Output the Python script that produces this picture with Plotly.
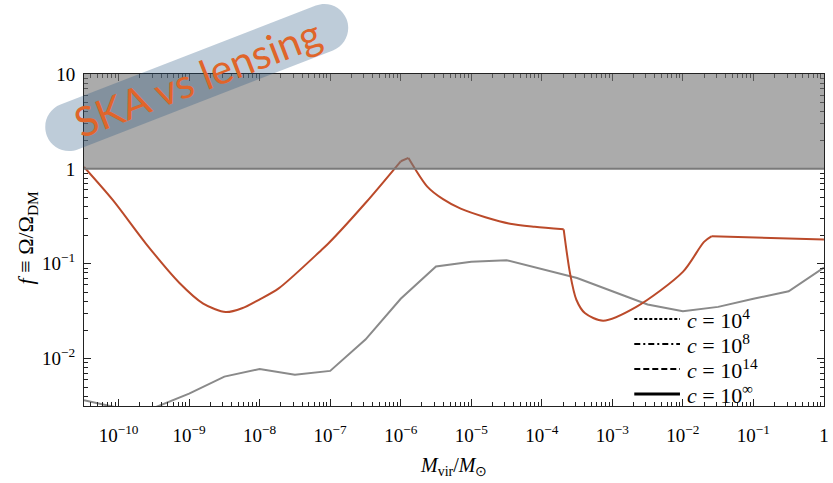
import numpy as np
import plotly.graph_objects as go

# ---- data (log10 of halo mass and of the abundance bound) ----
red_log_mass = [-10.49, -10.08, -9.61, -9.14, -8.80, -8.48, -8.25, -8.01, -7.73, -7.13,
                -7.03, -6.50, -6.00, -5.89, -5.62, -5.40, -5.15, -4.80, -4.45, -4.10,
                -3.69, -3.60, -3.51, -3.39, -3.13, -2.66, -2.00, -1.70, -1.59, 0.00]
red_log_f = [0.02, -0.33, -0.79, -1.20, -1.42, -1.51, -1.47, -1.38, -1.26, -0.86,
             -0.79, -0.36, 0.08, 0.115, -0.19, -0.32, -0.42, -0.51, -0.578, -0.61,
             -0.637, -1.10, -1.38, -1.52, -1.60, -1.455, -1.086, -0.77, -0.71, -0.745]
# index ranges of the smooth / straight pieces of the red curve
red_pieces = [(0, 12, "spline"), (12, 13, "linear"), (13, 20, "spline"),
              (20, 28, "spline"), (28, 29, "linear")]

gray_log_mass = [-10.49, -10.0, -9.5, -9.0, -8.5, -8.0, -7.5, -7.0, -6.5, -6.0, -5.5,
                 -5.0, -4.5, -4.0, -3.5, -3.0, -2.5, -2.0, -1.5, -1.0, -0.5, 0.0]
gray_log_f = [-2.44, -2.52, -2.52, -2.37, -2.19, -2.11, -2.17, -2.13, -1.80, -1.37, -1.03,
              -0.98, -0.963, -1.055, -1.15, -1.29, -1.43, -1.50, -1.455, -1.37, -1.29, -1.04]

excluded_f = [1.0, 10.0]          # overclosure band
x_ticks = [1e-10, 1e-9, 1e-8, 1e-7, 1e-6, 1e-5, 1e-4, 1e-3, 1e-2, 1e-1, 1]
x_ticktext = ["10<sup>−10</sup>", "10<sup>−9</sup>", "10<sup>−8</sup>", "10<sup>−7</sup>",
              "10<sup>−6</sup>", "10<sup>−5</sup>", "10<sup>−4</sup>", "10<sup>−3</sup>",
              "10<sup>−2</sup>", "10<sup>−1</sup>", "1"]
y_ticks = [1e-2, 1e-1, 1, 10]
y_ticktext = ["10<sup>−2</sup>", "10<sup>−1</sup>", "1", "10"]
legend_labels = ["<i>c</i> = 10<sup>4</sup>", "<i>c</i> = 10<sup>8</sup>",
                 "<i>c</i> = 10<sup>14</sup>", "<i>c</i> = 10<sup>∞</sup>"]
legend_dashes = ["3px,2px", "6px,3px,2px,3px", "6px,3px", "solid"]

X_RANGE = [-10.49, 0.0008]
Y_RANGE = [-2.5, 1.0]

W, H = 833, 483
L, R, T, B = 84, 4, 74, 77
PW, PH = W - L - R, H - T - B

SERIF = "Liberation Serif, Times New Roman, serif"
RED = "#bb4a2a"


def to_paper(px, py):
    return (px - L) / PW, (H - B - py) / PH


def ylog_to_paper(v):
    return (np.log10(v) - Y_RANGE[0]) / (Y_RANGE[1] - Y_RANGE[0])


fig = go.Figure()

fig.add_trace(go.Scatter(
    x=np.power(10.0, gray_log_mass), y=np.power(10.0, gray_log_f), mode="lines",
    line=dict(color="#8a8a8a", width=2), showlegend=False, hoverinfo="skip"))

rx = np.power(10.0, red_log_mass)
ry = np.power(10.0, red_log_f)
for i0, i1, shape in red_pieces:
    fig.add_trace(go.Scatter(
        x=rx[i0:i1 + 1], y=ry[i0:i1 + 1], mode="lines",
        line=dict(color=RED, width=2, shape=shape, smoothing=0.8),
        showlegend=False, hoverinfo="skip"))

# minor tick positions
x_minor = [m * 10.0 ** k for k in range(-11, 0) for m in range(2, 10)]
y_minor = [m * 10.0 ** k for k in range(-3, 1) for m in range(2, 10)]

axis_common = dict(
    type="log", showgrid=False, zeroline=False, showline=True, linecolor="#222",
    linewidth=1, mirror="ticks", ticks="inside", ticklen=7, tickcolor="#222",
    tickfont=dict(family=SERIF, size=19, color="black"), tickmode="array",
    ticklabeloverflow="allow",
)
fig.update_xaxes(**axis_common, range=X_RANGE, tickvals=x_ticks, ticktext=x_ticktext,
                 ticklabelstandoff=12,
                 minor=dict(tickmode="array", tickvals=x_minor, ticks="inside",
                            ticklen=4, tickcolor="#222", showgrid=False))
fig.update_yaxes(**axis_common, range=Y_RANGE, tickvals=y_ticks, ticktext=y_ticktext,
                 ticklabelstandoff=4,
                 minor=dict(tickmode="array", tickvals=y_minor, ticks="inside",
                            ticklen=4, tickcolor="#222", showgrid=False))

shapes = []
# excluded region f > 1
shapes.append(dict(type="rect", xref="paper", yref="paper", x0=0, x1=1,
                   y0=ylog_to_paper(excluded_f[0]), y1=ylog_to_paper(excluded_f[1]),
                   fillcolor="rgba(120,120,120,0.62)", line=dict(width=0), layer="above"))
shapes.append(dict(type="line", xref="paper", yref="paper", x0=0, x1=1,
                   y0=ylog_to_paper(excluded_f[0]), y1=ylog_to_paper(excluded_f[0]),
                   line=dict(color="#7a7a7a", width=2), layer="above"))

# rounded label badge (stadium shape)
p1 = np.array([69.0, 127.0])
p2 = np.array([326.0, 28.0])
r = 24.0
k = 0.5523
u = (p2 - p1) / np.linalg.norm(p2 - p1)
n = np.array([-u[1], u[0]])


def P(pt):
    x, y = to_paper(pt[0], pt[1])
    return f"{x:.5f},{y:.5f}"


A = p2 + r * n
Bp = p2 + r * u
D = p2 - r * n
E = p1 - r * n
F = p1 - r * u
G = p1 + r * n
path = (f"M{P(G)} L{P(A)} "
        f"C{P(A + k * r * u)} {P(Bp + k * r * n)} {P(Bp)} "
        f"C{P(Bp - k * r * n)} {P(D + k * r * u)} {P(D)} "
        f"L{P(E)} "
        f"C{P(E - k * r * u)} {P(F - k * r * n)} {P(F)} "
        f"C{P(F + k * r * n)} {P(G - k * r * u)} {P(G)} Z")
shapes.append(dict(type="path", xref="paper", yref="paper", path=path,
                   fillcolor="rgba(40,85,130,0.30)", line=dict(width=0), layer="above"))

# legend samples
legend_y = [319, 344, 369, 394]
for yy, dash in zip(legend_y, legend_dashes):
    x0, y0 = to_paper(638, yy)
    x1, _ = to_paper(684, yy)
    shapes.append(dict(type="line", xref="paper", yref="paper", x0=x0, x1=x1, y0=y0, y1=y0,
                       line=dict(color="black", width=3 if dash == "solid" else 2, dash=dash),
                       layer="above"))

annotations = []
for yy, lab in zip(legend_y, legend_labels):
    x0, y0 = to_paper(689, yy)
    annotations.append(dict(xref="paper", yref="paper", x=x0, y=y0, text=lab,
                            showarrow=False, xanchor="left", yanchor="middle",
                            font=dict(family=SERIF, size=22, color="black")))

# axis titles
tx, ty = to_paper(27, 238)
annotations.append(dict(xref="paper", yref="paper", x=tx, y=ty, textangle=-90,
                        text="<i>f</i> ≡ Ω/Ω<sub>DM</sub>", showarrow=False,
                        xanchor="center", yanchor="middle",
                        font=dict(family=SERIF, size=22, color="black")))
tx, ty = to_paper(456, 466)
annotations.append(dict(xref="paper", yref="paper", x=tx, y=ty,
                        text="<i>M</i><sub>vir</sub>/<i>M</i><sub>⊙</sub>", showarrow=False,
                        xanchor="center", yanchor="middle",
                        font=dict(family=SERIF, size=20, color="black")))

# badge text
tx, ty = to_paper(198, 77)
annotations.append(dict(xref="paper", yref="paper", x=tx, y=ty, text="SKA vs lensing",
                        textangle=-21, showarrow=False, xanchor="center", yanchor="middle",
                        font=dict(family="Lato, Open Sans, sans-serif", size=41,
                                  color="#e0652a")))

fig.update_layout(
    width=W, height=H, margin=dict(l=L, r=R, t=T, b=B),
    paper_bgcolor="white", plot_bgcolor="white",
    shapes=shapes, annotations=annotations, showlegend=False,
)

fig.write_html("out.html")
